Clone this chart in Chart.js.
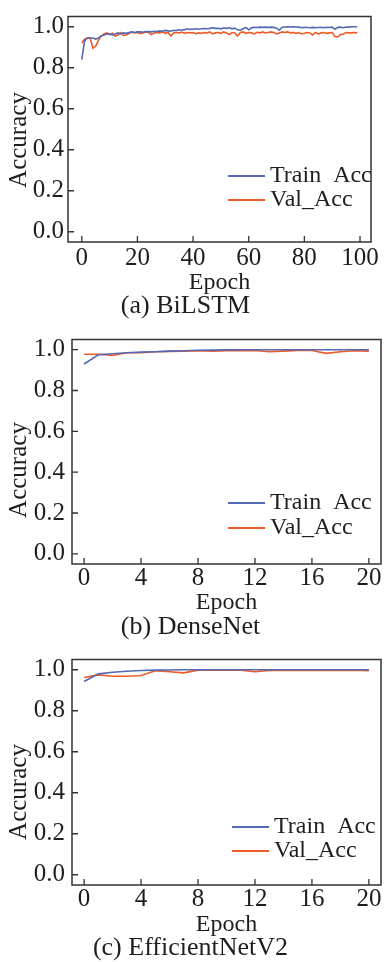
<!DOCTYPE html>
<html>
<head>
<meta charset="utf-8">
<script src="https://cdn.jsdelivr.net/npm/chart.js@4/dist/chart.umd.min.js"></script>
<style>
  body { margin: 0; background: #fff; }
  .panel { position: absolute; left: 0; width: 387px; }
</style>
</head>
<body>
<div class="panel" style="top:0"><canvas id="c1" width="387" height="320"></canvas></div>
<div class="panel" style="top:320px"><canvas id="c2" width="387" height="320"></canvas></div>
<div class="panel" style="top:640px"><canvas id="c3" width="387" height="322"></canvas></div>
<script>
// Values.
const yTicks = [0, 0.2, 0.4, 0.6, 0.8, 1.0];
const bilstmXTicks = [0, 20, 40, 60, 80, 100];
const shortXTicks = [0, 4, 8, 12, 16, 20];

const bilstmTrain = [
  0.84, 0.93, 0.945, 0.945, 0.945, 0.94, 0.945, 0.955, 0.96, 0.965,
  0.965, 0.96, 0.965, 0.97, 0.965, 0.97, 0.968, 0.972, 0.975, 0.972,
  0.975, 0.975, 0.973, 0.977, 0.976, 0.975, 0.978, 0.977, 0.98, 0.978,
  0.982, 0.98, 0.978, 0.983, 0.982, 0.985, 0.984, 0.986, 0.99, 0.987,
  0.988, 0.99, 0.988, 0.99, 0.991, 0.99, 0.992, 0.995, 0.992, 0.993,
  0.99, 0.994, 0.992, 0.995, 0.99, 0.993, 0.985, 0.983, 0.99, 0.997,
  0.985, 0.995, 0.997, 0.996, 0.998, 0.997, 0.998, 0.997, 0.998, 0.997,
  0.993, 0.983, 0.998, 0.999, 1.0, 0.999, 1.0, 0.999, 0.998, 0.995,
  0.997, 0.996, 0.995, 0.997, 0.995, 0.996, 0.997, 0.995, 0.997, 0.996,
  0.998, 0.988, 0.997, 0.998, 0.995, 0.999, 0.998, 1.0, 1.0, 1.0
];
const bilstmVal = [
  0.92, 0.94, 0.945, 0.945, 0.895, 0.905, 0.935, 0.955, 0.965, 0.97,
  0.962, 0.968, 0.955, 0.96, 0.972, 0.958, 0.96, 0.967, 0.975, 0.97,
  0.972, 0.968, 0.97, 0.974, 0.972, 0.962, 0.97, 0.972, 0.97, 0.975,
  0.968, 0.972, 0.955, 0.97, 0.972, 0.97, 0.974, 0.968, 0.972, 0.97,
  0.972, 0.966, 0.97, 0.968, 0.972, 0.97, 0.975, 0.965, 0.97, 0.972,
  0.968, 0.975, 0.97, 0.962, 0.972, 0.97, 0.955, 0.972, 0.975, 0.968,
  0.972, 0.97, 0.965, 0.973, 0.97, 0.975, 0.97, 0.972, 0.975, 0.972,
  0.965, 0.97, 0.975, 0.972, 0.975, 0.97, 0.972, 0.968, 0.972, 0.965,
  0.968, 0.972, 0.97, 0.96, 0.972, 0.965, 0.97, 0.972, 0.968, 0.97,
  0.972, 0.952, 0.95, 0.962, 0.965, 0.972, 0.97, 0.97, 0.972, 0.97
];

const densenetTrain = [
  0.93, 0.975, 0.98, 0.985, 0.988, 0.99, 0.993, 0.995, 0.997, 0.998,
  0.999, 1.0, 1.0, 1.0, 1.0, 1.0, 1.0, 1.0, 1.0, 1.0, 1.0
];
const densenetVal = [
  0.978, 0.978, 0.972, 0.985, 0.985, 0.99, 0.992, 0.993, 0.995, 0.993,
  0.995, 0.995, 0.996, 0.99, 0.993, 0.996, 0.996, 0.982, 0.99, 0.995, 0.993
];

const effnetTrain = [
  0.943, 0.98, 0.988, 0.993, 0.996, 0.998, 0.999, 1.0, 1.0, 1.0,
  1.0, 1.0, 1.0, 1.0, 1.0, 1.0, 1.0, 1.0, 1.0, 1.0, 1.0
];
const effnetVal = [
  0.962, 0.975, 0.968, 0.968, 0.972, 0.995, 0.99, 0.985, 0.998, 0.998,
  0.998, 0.998, 0.99, 0.997, 0.998, 0.997, 0.996, 0.998, 0.997, 0.998, 0.995
];

const TRAIN_COLOR = "#5468b3";
const VAL_COLOR = "#ee5b27";
const INK = "#1e1e1e";
const FONT = "'Liberation Serif', 'Times New Roman', serif";

// Frame, inward ticks, rotated y title and in-plot legend.
const decor = {
  id: "decor",
  afterDatasetsDraw(chart, args, opts) {
    const { ctx, chartArea: a, scales } = chart;
    ctx.save();
    ctx.strokeStyle = "#333";
    ctx.lineWidth = 1.5;
    ctx.strokeRect(a.left, a.top, a.right - a.left, a.bottom - a.top);
    ctx.lineWidth = 1.3;
    ctx.beginPath();
    for (const t of scales.x.ticks) {
      const px = scales.x.getPixelForValue(t.value);
      ctx.moveTo(px, a.bottom); ctx.lineTo(px, a.bottom - 6);
    }
    for (const t of scales.y.ticks) {
      const py = scales.y.getPixelForValue(t.value);
      ctx.moveTo(a.left, py); ctx.lineTo(a.left + 6, py);
    }
    ctx.stroke();

    ctx.fillStyle = INK;
    ctx.textBaseline = "middle";
    // y title
    ctx.save();
    ctx.font = `25px ${FONT}`;
    ctx.translate(opts.yTitleX, opts.yTitleY);
    ctx.rotate(-Math.PI / 2);
    ctx.textAlign = "center";
    ctx.fillText("Accuracy", 0, 0);
    ctx.restore();
    // legend
    ctx.font = `24px ${FONT}`;
    ctx.textAlign = "left";
    chart.data.datasets.forEach((ds, i) => {
      const y = a.bottom + opts.legendY + i * opts.legendGap;
      ctx.strokeStyle = ds.borderColor;
      ctx.lineWidth = 1.8;
      ctx.beginPath();
      ctx.moveTo(opts.legendX, y); ctx.lineTo(opts.legendX + 37, y);
      ctx.stroke();
      ctx.fillText(ds.label, opts.legendX + 42, y);
    });
    ctx.restore();
  }
};

function makeAccChart(canvas, { train, val, xTicks, xMin, xMax, caption, lay }) {
  const pts = (arr) => arr.map((v, i) => ({ x: i, y: v }));
  return new Chart(canvas, {
    type: "line",
    data: {
      datasets: [
        { label: "Train  Acc", data: pts(train), borderColor: TRAIN_COLOR, borderWidth: 1.6, pointRadius: 0, tension: 0 },
        { label: "Val_Acc", data: pts(val), borderColor: VAL_COLOR, borderWidth: 1.6, pointRadius: 0, tension: 0 },
      ],
    },
    options: {
      responsive: false, animation: false,
      layout: { padding: { top: lay.top, right: lay.right, bottom: lay.bottom, left: 0 } },
      scales: {
        x: {
          type: "linear", min: xMin, max: xMax,
          afterBuildTicks: s => { s.ticks = xTicks.map(v => ({ value: v })); },
          afterFit: s => { s.height = lay.xHeight; },
          grid: { display: false, drawTicks: false }, border: { display: false },
          ticks: { color: INK, padding: lay.xPad, maxRotation: 0, font: { family: FONT, size: 25, lineHeight: 1 }, callback: v => String(v) },
          title: { display: true, text: "Epoch", color: INK, padding: 0, font: { family: FONT, size: 24, lineHeight: 1 } },
        },
        y: {
          min: -0.05, max: 1.05,
          afterBuildTicks: s => { s.ticks = yTicks.map(v => ({ value: v })); },
          afterFit: s => { s.width = lay.left; },
          grid: { display: false, drawTicks: false }, border: { display: false },
          ticks: { color: INK, padding: lay.yPad, font: { family: FONT, size: 25, lineHeight: 1 }, callback: v => v.toFixed(1) },
        },
      },
      plugins: {
        legend: { display: false },
        tooltip: { enabled: false },
        title: {
          display: true, position: "bottom", text: caption, color: INK,
          padding: { top: lay.capPad, bottom: 0 },
          font: { family: FONT, size: 26, weight: "normal", lineHeight: 1 },
        },
        decor: lay.decor,
      },
    },
    plugins: [decor],
  });
}

makeAccChart(document.getElementById("c1"), {
  train: bilstmTrain, val: bilstmVal, xTicks: bilstmXTicks, xMin: -4.95, xMax: 103.95,
  caption: "(a) BiLSTM",
  lay: { top: 8, right: 16, bottom: 1, left: 68, xHeight: 53, xPad: 3.5, yPad: 4, capPad: -2,
         decor: { yTitleX: 19, yTitleY: 140, legendX: 228, legendY: -66, legendGap: 24 } },
});
makeAccChart(document.getElementById("c2"), {
  train: densenetTrain, val: densenetVal, xTicks: shortXTicks, xMin: -0.85, xMax: 20.85,
  caption: "(b) DenseNet",
  lay: { top: 13, right: 6, bottom: 0, left: 72, xHeight: 51, xPad: 1.5, yPad: 7, capPad: -1,
         decor: { yTitleX: 19, yTitleY: 150, legendX: 228, legendY: -61, legendGap: 25 } },
});
makeAccChart(document.getElementById("c3"), {
  train: effnetTrain, val: effnetVal, xTicks: shortXTicks, xMin: -0.85, xMax: 20.85,
  caption: "(c) EfficientNetV2",
  lay: { top: 13, right: 6, bottom: 1, left: 72, xHeight: 52, xPad: 1.5, yPad: 7, capPad: -2,
         decor: { yTitleX: 19, yTitleY: 152, legendX: 232, legendY: -58, legendGap: 24 } },
});
</script>
</body>
</html>
